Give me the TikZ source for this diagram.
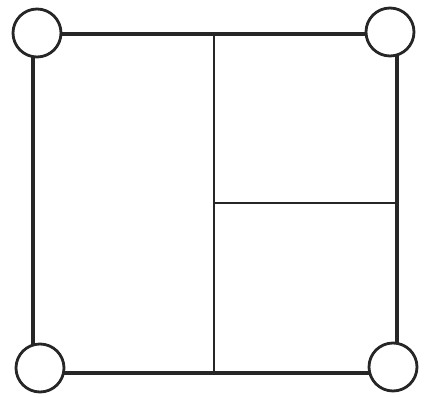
\documentclass[tikz,border=0pt]{standalone}
\begin{document}
\begin{tikzpicture}[x=1pt,y=-1pt,
  frame/.style={line width=4.5pt,draw=black!85},
  inner/.style={line width=2.2pt,draw=black!85},
  corner/.style={circle,draw=black!85,line width=2.8pt,fill=white,minimum size=48pt,inner sep=0pt}]
\useasboundingbox (0,0) rectangle (428,396);
\coordinate (a) at (33,34);
\coordinate (b) at (397,34);
\coordinate (c) at (397,373);
\coordinate (d) at (33,373);
\coordinate (vt) at (214,34);
\coordinate (vb) at (214,373);
\coordinate (hl) at (214,203);
\coordinate (hr) at (397,203);
\draw[frame] (a) -- (b) -- (c) -- (d) -- cycle;
\draw[inner] (vt) -- (vb);
\draw[inner] (hl) -- (hr);
\node[corner] (tl) at (37,33) {};
\node[corner] (tr) at (390,32) {};
\node[corner] (bl) at (40,368) {};
\node[corner] (br) at (393,367) {};
\end{tikzpicture}
\end{document}
